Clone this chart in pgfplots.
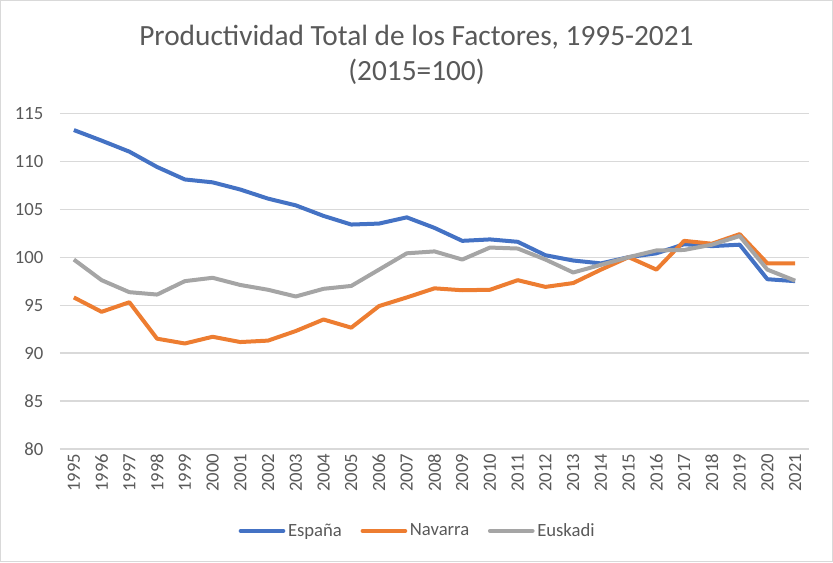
\documentclass[border=0pt]{standalone}
\usepackage{pgfplots}
\pgfplotsset{compat=1.18}
\usepackage{fontspec}
\setmainfont{Carlito}
\definecolor{cEsp}{HTML}{4472C4}
\definecolor{cNav}{HTML}{ED7D31}
\definecolor{cEus}{HTML}{A5A5A5}
\definecolor{cGrid}{HTML}{D9D9D9}
\definecolor{cText}{HTML}{595959}
\begin{document}
\begin{tikzpicture}[x=0.75pt,y=0.75pt]
\useasboundingbox (0,0) rectangle (833,562);
\draw[cGrid, line width=0.75pt] (0.5,0.5) rectangle (832.5,561.5);
\node[text=cText, font=\fontsize{22}{26}\selectfont] at (416.5,525) {Productividad Total de los Factores, 1995-2021};
\node[text=cText, font=\fontsize{22}{26}\selectfont] at (416.5,490) {(2015=100)};
\begin{axis}[
  at={(45pt,84.75pt)}, anchor=south west,
  scale only axis, width=561.75pt, height=251.8pt,
  xmin=1994.5, xmax=2021.5, ymin=80, ymax=115,
  xtick={1995,...,2021}, ytick={80,85,...,115},
  axis line style={draw=none},
  major tick length=0pt,
  ymajorgrids, grid style={cGrid, line width=0.9pt},
  /pgf/number format/assume math mode=true,
  /pgf/number format/.cd, 1000 sep={}, /pgfplots/.cd,
  tick label style={text=cText, font=\fontsize{14}{16}\selectfont},
  xticklabel style={rotate=90, anchor=east},
  yticklabel style={xshift=-9pt},
  legend style={at={(0.478,-0.244)}, anchor=center, draw=none, fill=none,
    legend columns=3, text=cText, font=\fontsize{14}{16}\selectfont,
    /tikz/every even column/.append style={column sep=12pt},
    inner sep=0pt},
  legend image code/.code={\draw[#1, line cap=round] (0pt,0pt) -- (32pt,0pt);},
  every axis plot/.append style={line width=3pt, line join=round, no markers},
  clip=false,
]
\addplot[cEsp] coordinates {
(1995,113.25) (1996,112.15) (1997,111.0) (1998,109.4) (1999,108.1) (2000,107.8)
(2001,107.05) (2002,106.1) (2003,105.4) (2004,104.3) (2005,103.4) (2006,103.5)
(2007,104.15) (2008,103.05) (2009,101.7) (2010,101.85) (2011,101.6) (2012,100.2)
(2013,99.65) (2014,99.35) (2015,100.0) (2016,100.4) (2017,101.35) (2018,101.15)
(2019,101.3) (2020,97.7) (2021,97.5)};
\addlegendentry{España}
\addplot[cNav] coordinates {
(1995,95.8) (1996,94.3) (1997,95.3) (1998,91.5) (1999,91.0) (2000,91.7)
(2001,91.15) (2002,91.3) (2003,92.3) (2004,93.5) (2005,92.65) (2006,94.9)
(2007,95.8) (2008,96.75) (2009,96.55) (2010,96.6) (2011,97.6) (2012,96.9)
(2013,97.3) (2014,98.7) (2015,100.0) (2016,98.7) (2017,101.7) (2018,101.4)
(2019,102.4) (2020,99.35) (2021,99.35)};
\addlegendentry{Navarra}
\addplot[cEus] coordinates {
(1995,99.75) (1996,97.6) (1997,96.35) (1998,96.1) (1999,97.5) (2000,97.85)
(2001,97.1) (2002,96.6) (2003,95.9) (2004,96.7) (2005,97.0) (2006,98.7)
(2007,100.4) (2008,100.6) (2009,99.75) (2010,101.0) (2011,100.9) (2012,99.75)
(2013,98.4) (2014,99.2) (2015,100.0) (2016,100.7) (2017,100.75) (2018,101.3)
(2019,102.2) (2020,98.7) (2021,97.55)};
\addlegendentry{Euskadi}
\end{axis}
\end{tikzpicture}
\end{document}
